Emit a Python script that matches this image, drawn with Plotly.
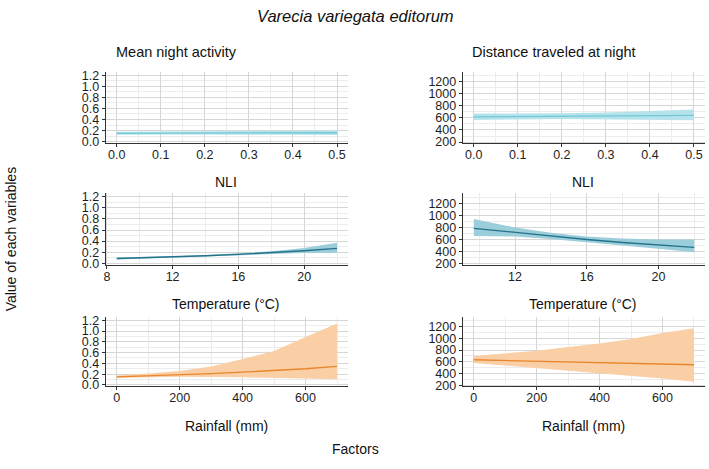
import plotly.graph_objects as go

# ---------------- data ----------------
nli = [0.0, 0.1, 0.2, 0.3, 0.4, 0.5]
act_nli_fit = [0.150, 0.152, 0.154, 0.156, 0.158, 0.160]
act_nli_lo = [0.125, 0.128, 0.130, 0.128, 0.124, 0.118]
act_nli_hi = [0.176, 0.178, 0.180, 0.186, 0.194, 0.203]

dist_nli_fit = [618, 622, 627, 632, 637, 642]
dist_nli_lo = [565, 575, 580, 578, 570, 560]
dist_nli_hi = [672, 670, 675, 690, 712, 740]

temp_act = [8.6, 10, 12, 14, 16, 18, 20, 22]
act_temp_fit = [0.085, 0.096, 0.114, 0.135, 0.160, 0.190, 0.226, 0.268]
act_temp_lo = [0.068, 0.082, 0.100, 0.120, 0.142, 0.165, 0.185, 0.190]
act_temp_hi = [0.105, 0.110, 0.128, 0.150, 0.178, 0.215, 0.275, 0.372]

temp_dist = [9.7, 12, 14, 16, 18, 20, 22]
dist_temp_fit = [785, 715, 655, 600, 550, 510, 470]
dist_temp_lo = [660, 648, 610, 558, 500, 445, 390]
dist_temp_hi = [940, 800, 710, 650, 618, 600, 598]

rain = [0, 100, 200, 300, 400, 500, 600, 700]
act_rain_fit = [0.148, 0.165, 0.185, 0.210, 0.238, 0.268, 0.300, 0.345]
act_rain_lo = [0.130, 0.140, 0.150, 0.145, 0.140, 0.130, 0.120, 0.105]
act_rain_hi = [0.175, 0.210, 0.260, 0.340, 0.480, 0.630, 0.890, 1.140]

dist_rain_fit = [635, 623, 611, 599, 587, 574, 562, 550]
dist_rain_lo = [580, 545, 500, 455, 405, 360, 315, 260]
dist_rain_hi = [700, 740, 790, 850, 910, 990, 1090, 1170]

left_yticks = [0.0, 0.2, 0.4, 0.6, 0.8, 1.0, 1.2]
right_yticks = [200, 400, 600, 800, 1000, 1200]

# ---------------- styling ----------------
W, H = 709, 469
FONT = "Liberation Sans, Arial, sans-serif"
c_top_line, c_top_band = "#72c9d6", "#b6e3eb"
c_mid_line, c_mid_band = "#24738a", "#9ccddb"
c_bot_line, c_bot_band = "#e8862e", "#fbcfa5"

def px_x(p):
    return p / W

def px_y(p):
    return 1 - p / H

cols = {1: (104, 347), 2: (462, 705)}
rows = {1: (70, 143), 2: (194, 267), 3: (320, 391)}

fig = go.Figure()

panels = [
    # row, col, x, fit, lo, hi, line, band, xrange, xdtick, xminor, yside, xformat
    (1, 1, nli, act_nli_fit, act_nli_lo, act_nli_hi, c_top_line, c_top_band, [-0.025, 0.525], 0.1, 0.05, "L", ".1f"),
    (1, 2, nli, dist_nli_fit, dist_nli_lo, dist_nli_hi, c_top_line, c_top_band, [-0.025, 0.525], 0.1, 0.05, "R", ".1f"),
    (2, 1, temp_act, act_temp_fit, act_temp_lo, act_temp_hi, c_mid_line, c_mid_band, [7.93, 22.67], 4, 2, "L", ""),
    (2, 2, temp_dist, dist_temp_fit, dist_temp_lo, dist_temp_hi, c_mid_line, c_mid_band, [9.08, 22.6], 4, 2, "R", ""),
    (3, 1, rain, act_rain_fit, act_rain_lo, act_rain_hi, c_bot_line, c_bot_band, [-35, 735], 200, 100, "L", ""),
    (3, 2, rain, dist_rain_fit, dist_rain_lo, dist_rain_hi, c_bot_line, c_bot_band, [-35, 735], 200, 100, "R", ""),
]

layout_axes = {}
for i, (r, c, xs, fit, lo, hi, lc, bc, xr, xd, xm, side, xf) in enumerate(panels, start=1):
    xa = "x" if i == 1 else f"x{i}"
    ya = "y" if i == 1 else f"y{i}"
    fig.add_trace(go.Scatter(
        x=list(xs) + list(xs)[::-1], y=list(hi) + list(lo)[::-1],
        fill="toself", fillcolor=bc, line=dict(width=0), mode="lines",
        hoverinfo="skip", showlegend=False, xaxis=xa, yaxis=ya))
    fig.add_trace(go.Scatter(
        x=xs, y=fit, mode="lines", line=dict(color=lc, width=1.3),
        showlegend=False, xaxis=xa, yaxis=ya))
    x0, x1 = cols[c]
    y0, y1 = rows[r]
    if side == "L":
        yr, ytv, ymd = [-0.03, 1.265], left_yticks, 0.1
        ytt = ["%.1f" % v for v in left_yticks]
    else:
        yr, ytv, ymd = [180, 1365], right_yticks, 100
        ytt = [str(v) for v in right_yticks]
    common = dict(showline=True, linecolor="#333333", linewidth=1,
                  ticks="outside", ticklen=3, tickcolor="#333333", tickwidth=1,
                  showgrid=True, gridcolor="#d6d6d6", gridwidth=1,
                  zeroline=False,
                  tickfont=dict(family=FONT, size=12.5, color="#1e1e1e"))
    layout_axes["xaxis" if i == 1 else f"xaxis{i}"] = dict(
        domain=[px_x(x0), px_x(x1)], anchor=ya, range=xr,
        tick0=0, dtick=xd, tickformat=xf, ticklabelstandoff=-3,
        minor=dict(dtick=xm, tick0=0, showgrid=True, gridcolor="#ececec", gridwidth=0.8),
        **common)
    layout_axes["yaxis" if i == 1 else f"yaxis{i}"] = dict(
        domain=[px_y(y1), px_y(y0)], anchor=xa, range=yr,
        tickvals=ytv, ticktext=ytt,
        minor=dict(dtick=ymd, tick0=0, showgrid=True, gridcolor="#ececec", gridwidth=0.8),
        **common)

fig.update_layout(**layout_axes)

def ann(text, x, y, size, italic=False, angle=0):
    t = f"<i>{text}</i>" if italic else text
    return dict(text=t, x=px_x(x), y=px_y(y), xref="paper", yref="paper",
                xanchor="center", yanchor="middle", showarrow=False,
                textangle=angle, font=dict(family=FONT, size=size, color="#111111"))

annotations = [
    ann("Varecia variegata editorum", 354, 13, 16.5, italic=True),
    ann("Mean night activity", 175, 50, 14.5),
    ann("Distance traveled at night", 554, 50, 14.5),
    ann("NLI", 225, 182, 14),
    ann("NLI", 583, 182, 14),
    ann("Temperature (°C)", 225, 307, 14),
    ann("Temperature (°C)", 583, 307, 14),
    ann("Rainfall (mm)", 225, 431, 14),
    ann("Rainfall (mm)", 583, 431, 14),
    ann("Factors", 354, 455, 14),
    ann("Value of each variables", 9, 240, 14, angle=-90),
]

fig.update_layout(
    width=W, height=H,
    margin=dict(l=0, r=0, t=0, b=0),
    paper_bgcolor="white", plot_bgcolor="white",
    annotations=annotations,
    showlegend=False,
)

fig.write_html("out.html")
